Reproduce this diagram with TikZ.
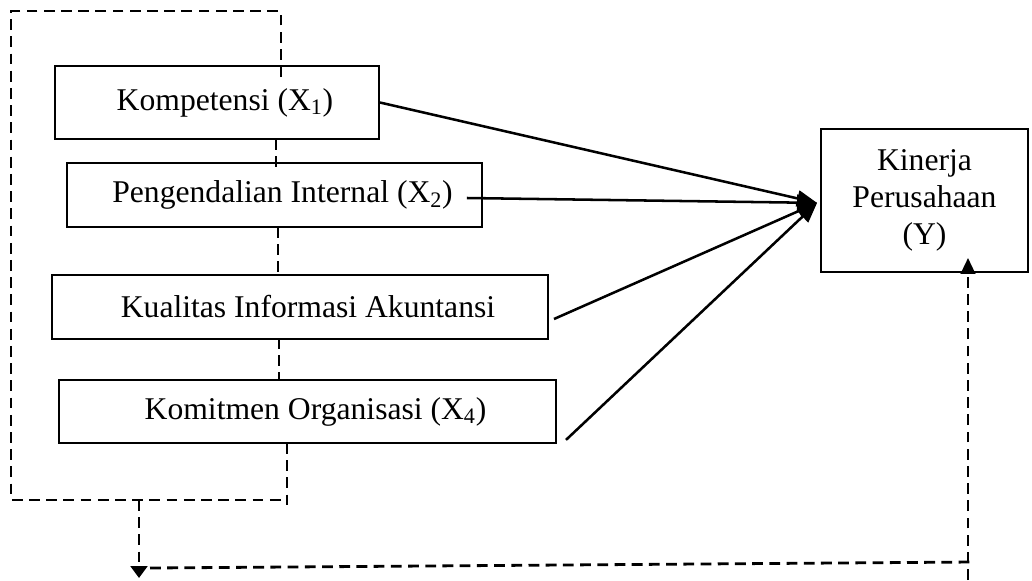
\documentclass[tikz,border=0pt]{standalone}
\usepackage{fontspec}
\setmainfont{Liberation Serif}
\usetikzlibrary{arrows.meta}

\newcommand{\pushr}{\hspace*{0.4cm}}

\begin{document}
\begin{tikzpicture}[x=0.025cm,y=-0.025cm,color=black,
  varbox/.style={draw,line width=1.3pt,minimum height=1.6cm,inner sep=0pt,font=\fontsize{22.5}{26.3}\selectfont},
  link/.style={line width=1.8pt,-{Triangle[length=0.5cm,width=0.4cm]}},
  dashlink/.style={line width=2pt,dash pattern=on 0.27cm off 0.16cm}]

\useasboundingbox (0,0) rectangle (1032,580);

\node (k1) at (217,102.5)[varbox,minimum width=8.1cm,minimum height=1.825cm]{\pushr Kompetensi (X\textsubscript{1})};

\node (k2) at (274.5,195)[varbox,minimum width=10.375cm]{\pushr Pengendalian Internal (X\textsubscript{2})};

\node (k3) at (300,307)[varbox,minimum width=12.4cm]{\pushr Kualitas Informasi Akuntansi};

\node (k4) at (307.5,411.5)[varbox,minimum width=12.425cm,minimum height=1.575cm]{\pushr Komitmen Organisasi (X\textsubscript{4})};

\node (y) at (924.5,200.5)[varbox,minimum width=5.175cm,minimum height=3.575cm,align=center]{Kinerja\\Perusahaan\\(Y)};

% arrows into Y
\coordinate (tip) at ([xshift=-0.075cm,yshift=-0.06cm]y.west);
\draw[link] (k1.east) -- (tip);
\draw[link] ([xshift=-0.4cm,yshift=-0.075cm]k2.east) -- (tip);
\draw[link] ([xshift=0.125cm,yshift=-0.3cm]k3.east) -- (tip);
\draw[link] ([xshift=0.225cm,yshift=-0.71cm]k4.east) -- (tip);

% dashed frame round the X boxes
\draw[dashlink] (281,77) -- (281,11) -- (11,11) -- (11,500) -- (287,500);
\foreach \a/\b/\c in {276/139/172, 278/227/275, 279/338/380, 287/443/507}
{
\draw[dashlink] (\a,\b) -- (\a,\c);
}

\coordinate (down) at (139,500);
\coordinate (turn) at (139,578);
\coordinate (yin) at (968,580);
\coordinate (ybot) at (y.south -| yin);

\draw[dashlink,-{Triangle[length=0.3cm,width=0.42cm]}] (down) -- (turn);
\draw[dashlink] ([xshift=0.275cm,yshift=0.25cm]turn) -- (972,562);
\draw[dashlink,-{Triangle[length=0.4cm,width=0.36cm]}] (yin) -- ([yshift=0.375cm]ybot);

\end{tikzpicture}
\end{document}
